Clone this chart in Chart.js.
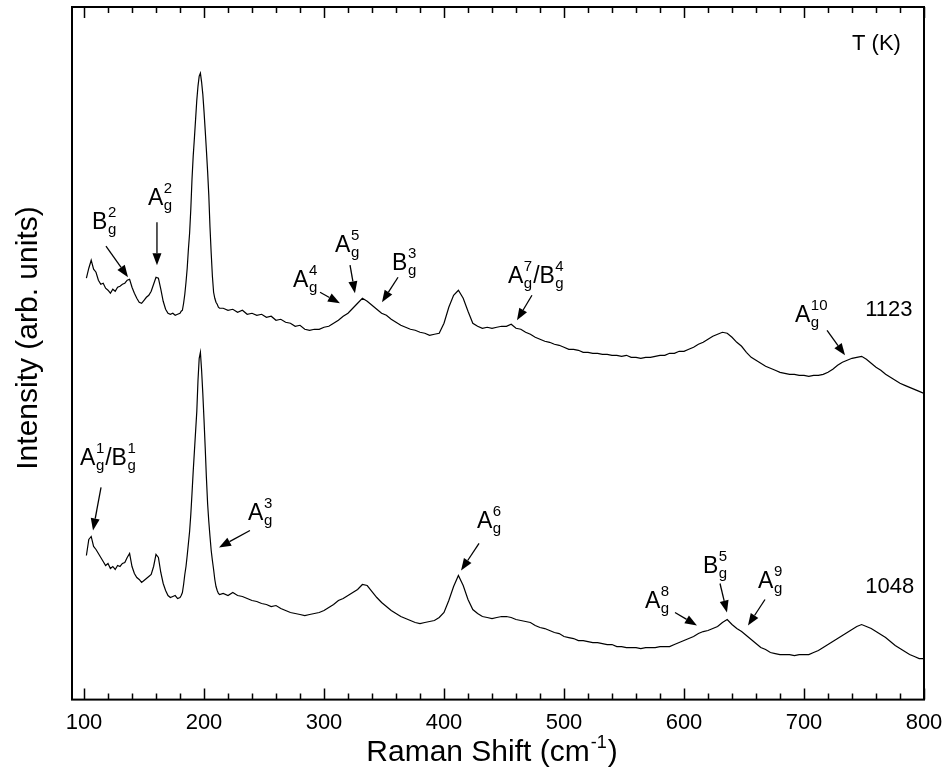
<!DOCTYPE html>
<html>
<head>
<meta charset="utf-8">
<script src="https://cdn.jsdelivr.net/npm/chart.js@4.4.1/dist/chart.umd.min.js"></script>
<style>
  html, body { margin: 0; padding: 0; background: #fff; }
</style>
</head>
<body>
<canvas id="raman" width="947" height="769"></canvas>
<script>
// Raman shift (cm-1) sample positions
const shift = [
  102,104,106,108,110,112,114,116,118,120,122,124,126,128,130,132,134,136,138,140,
  142,144,146,148,150,152,154,156,158,160,162,164,166,168,170,172,174,176,178,180,
  181,182,183,184,185,186,187,188,189,190,191,192,193,194,195,196,197,198,199,200,
  201,202,203,204,205,206,207,208,209,210,211,212,213,
  216,220,224,228,232,236,240,244,248,252,256,260,264,268,272,276,280,284,288,292,
  296,300,304,308,312,316,320,324,328,332,336,340,344,348,352,356,360,364,368,372,
  376,380,384,388,392,396,400,404,408,412,416,420,424,428,432,436,440,444,448,452,
  456,460,464,468,472,476,480,484,488,492,496,500,504,508,512,516,520,524,528,532,
  536,540,544,548,552,556,560,564,568,572,576,580,584,588,592,596,600,604,608,612,
  616,620,624,628,632,636,640,644,648,652,656,660,664,668,672,676,680,684,688,692,
  696,700,704,708,712,716,720,724,728,732,736,740,744,748,752,756,760,764,768,772,
  776,780,784,788,792,796,800
];

// intensity, 1123 K spectrum (offset upwards)
const int1123 = [
  421,431,439,430,427,419,415,416,411,409,406,410,408,412,413,415,416,419,420,412,
  406,401,397,396,399,402,404,408,415,422,421,410,398,390,386,385,386,384,385,386,
  388,389,396,405,417,431,450,466,490,520,543,561,580,599,613,623,626,617,605,588,
  569,549,528,504,472,446,423,407,401,397,395,392,391,
  391,389,390,387,389,385,386,384,385,382,383,379,380,377,376,373,374,370,369,370,
  370,372,373,376,379,383,386,391,396,401,398,394,390,386,384,380,377,374,372,370,
  369,367,366,364,365,366,376,392,404,409,401,388,376,373,371,372,371,372,373,373,
  375,371,370,367,365,362,360,358,357,355,354,352,350,350,349,347,347,346,346,345,
  345,344,344,343,344,342,342,341,342,342,343,344,344,346,346,348,348,350,352,355,
  357,360,363,365,367,366,362,357,353,347,342,339,336,333,331,329,327,326,325,325,
  324,324,323,324,324,325,327,330,334,337,339,341,342,343,340,336,332,329,325,322,
  319,316,314,312,310,308,306
];

// intensity, 1048 K spectrum
const int1048 = [
  144,160,163,153,150,146,142,138,134,136,131,133,130,134,133,136,137,142,146,133,
  126,122,120,117,119,121,123,125,133,145,142,127,116,109,104,102,103,104,101,102,
  104,107,115,125,133,144,156,168,185,206,228,248,268,288,319,341,347,329,306,280,
  252,222,196,178,163,149,139,130,120,113,109,106,105,
  106,104,107,104,103,101,99,98,96,95,93,94,91,89,87,86,85,84,85,86,
  87,89,92,95,99,101,104,107,110,115,114,108,102,97,93,89,86,83,81,79,
  77,76,77,78,79,82,87,99,113,124,114,100,90,86,83,82,81,82,83,83,
  82,80,79,78,77,74,72,71,69,67,66,63,62,61,59,59,58,57,57,56,
  55,55,53,53,52,52,52,51,52,52,52,53,53,53,55,57,59,61,63,66,
  68,69,71,73,77,80,75,71,68,64,60,56,52,50,47,46,45,45,45,44,
  45,45,45,47,49,52,55,58,61,64,67,70,73,75,73,71,68,65,62,58,
  54,51,48,45,43,41,41
];

const xTicks = [100, 200, 300, 400, 500, 600, 700, 800];
const temps = ['1123', '1048'];

// phonon mode labels: [base, superscript] pairs, subscript is always g
// pos = label baseline start, arrow = [from, to] in data units
const modes = [
  { parts: [['B', '2']], pos: [106.7, 470], arrow: [[118.3, 453], [136.7, 422]] },
  { parts: [['A', '2']], pos: [153.3, 494], arrow: [[160.8, 477], [160.8, 434]] },
  { parts: [['A', '4']], pos: [274.2, 412], arrow: [[296.7, 407], [313.3, 396]] },
  { parts: [['A', '5']], pos: [309.2, 447], arrow: [[321.7, 434], [325.8, 406]] },
  { parts: [['B', '3']], pos: [356.7, 429], arrow: [[361.7, 422], [348.3, 397]] },
  { parts: [['A', '7'], ['/B', '4']], pos: [453.3, 416], arrow: [[473.3, 404], [460.8, 379]] },
  { parts: [['A', '10']], pos: [692.5, 377], arrow: [[719.2, 369], [734.2, 344]] },
  { parts: [['A', '1'], ['/B', '1']], pos: [96.7, 234], arrow: [[114.2, 212], [107.5, 169]] },
  { parts: [['A', '3']], pos: [236.7, 179], arrow: [[238.3, 169], [212.5, 152]] },
  { parts: [['A', '6']], pos: [427.5, 171], arrow: [[429.2, 156], [414.2, 129]] },
  { parts: [['A', '8']], pos: [567.5, 92], arrow: [[592.5, 87], [610.8, 74]] },
  { parts: [['B', '5']], pos: [615.8, 126], arrow: [[630, 116], [635.8, 87]] },
  { parts: [['A', '9']], pos: [661.7, 112], arrow: [[667.5, 100], [653.3, 74]] }
];
const tempPos = [[751, 383], [751, 107]];

const FONT = '"Liberation Sans", Arial, sans-serif';

function drawMode(ctx, x, y, parts) {
  let cx = x;
  parts.forEach(([base, sup]) => {
    ctx.font = '23px ' + FONT;
    ctx.fillText(base, cx, y);
    cx += ctx.measureText(base).width + 0.5;
    ctx.font = '15px ' + FONT;
    ctx.fillText('g', cx, y + 5);
    ctx.fillText(sup, cx, y - 12);
    cx += Math.max(ctx.measureText('g').width, ctx.measureText(sup).width) + 1;
  });
}

function drawArrow(ctx, x1, y1, x2, y2) {
  const ang = Math.atan2(y2 - y1, x2 - x1);
  const len = 12, half = 4.5;
  ctx.beginPath();
  ctx.moveTo(x1, y1);
  ctx.lineTo(x2 - Math.cos(ang) * len, y2 - Math.sin(ang) * len);
  ctx.stroke();
  ctx.beginPath();
  ctx.moveTo(x2, y2);
  ctx.lineTo(x2 - Math.cos(ang) * len - Math.sin(ang) * half, y2 - Math.sin(ang) * len + Math.cos(ang) * half);
  ctx.lineTo(x2 - Math.cos(ang) * len + Math.sin(ang) * half, y2 - Math.sin(ang) * len - Math.cos(ang) * half);
  ctx.closePath();
  ctx.fill();
}

// frame, inward ticks, titles and mode labels
const decor = {
  id: 'decor',
  afterDraw(chart) {
    const ctx = chart.ctx;
    const a = chart.chartArea;
    const xs = chart.scales.x, ys = chart.scales.y;
    ctx.save();
    ctx.strokeStyle = '#000';
    ctx.fillStyle = '#000';

    // box
    ctx.lineWidth = 2;
    ctx.strokeRect(a.left, a.top, a.right - a.left, a.bottom - a.top);

    // ticks on bottom and top, pointing inwards
    ctx.lineWidth = 1.5;
    for (let v = 100; v <= 800; v += 20) {
      const px = Math.round(xs.getPixelForValue(v)) + 0.5;
      const len = (v % 100 === 0) ? 11 : 6;
      ctx.beginPath();
      ctx.moveTo(px, a.bottom);
      ctx.lineTo(px, a.bottom - len);
      ctx.moveTo(px, a.top);
      ctx.lineTo(px, a.top + len);
      ctx.stroke();
    }

    // axis titles
    ctx.textBaseline = 'alphabetic';
    ctx.font = '30px ' + FONT;
    const t1 = 'Raman Shift (cm', t3 = ')';
    const w1 = ctx.measureText(t1).width, w3 = ctx.measureText(t3).width;
    ctx.font = '18px ' + FONT;
    const w2 = ctx.measureText('-1').width;
    let tx = 491 - (w1 + w2 + w3) / 2;
    ctx.font = '30px ' + FONT;
    ctx.fillText(t1, tx, 761);
    ctx.font = '18px ' + FONT;
    ctx.fillText('-1', tx + w1 + 1, 748);
    ctx.font = '30px ' + FONT;
    ctx.fillText(t3, tx + w1 + w2 + 2, 761);

    ctx.save();
    ctx.translate(37, 338);
    ctx.rotate(-Math.PI / 2);
    ctx.textAlign = 'center';
    ctx.fillText('Intensity (arb. units)', 0, 0);
    ctx.restore();

    // temperature labels
    ctx.font = '22px ' + FONT;
    ctx.fillText('T (K)', xs.getPixelForValue(740), ys.getPixelForValue(649));
    temps.forEach((t, i) => {
      ctx.fillText(t, xs.getPixelForValue(tempPos[i][0]), ys.getPixelForValue(tempPos[i][1]));
    });

    // mode labels with arrows
    ctx.lineWidth = 1.3;
    modes.forEach(m => {
      drawMode(ctx, xs.getPixelForValue(m.pos[0]), ys.getPixelForValue(m.pos[1]), m.parts);
      const [p, q] = m.arrow;
      drawArrow(ctx,
        xs.getPixelForValue(p[0]), ys.getPixelForValue(p[1]),
        xs.getPixelForValue(q[0]), ys.getPixelForValue(q[1]));
    });
    ctx.restore();
  }
};

const toPoints = arr => shift.map((x, i) => ({ x: x, y: arr[i] }));

new Chart(document.getElementById('raman'), {
  type: 'line',
  data: {
    datasets: [
      { label: temps[0], data: toPoints(int1123), borderColor: '#000', borderWidth: 1.2, pointRadius: 0, tension: 0 },
      { label: temps[1], data: toPoints(int1048), borderColor: '#000', borderWidth: 1.2, pointRadius: 0, tension: 0 }
    ]
  },
  options: {
    responsive: false,
    devicePixelRatio: 1,
    animation: false,
    layout: { padding: { left: 72, right: 23, top: 7, bottom: 23 } },
    plugins: { legend: { display: false }, tooltip: { enabled: false } },
    scales: {
      x: {
        type: 'linear',
        min: 90,
        max: 800,
        afterBuildTicks: scale => { scale.ticks = xTicks.map(v => ({ value: v })); },
        // keep the edge labels from pushing the plot area inwards
        afterFit: scale => { scale.paddingLeft = 0; scale.paddingRight = 0; },
        grid: { display: false, drawTicks: false },
        border: { display: false },
        ticks: { color: '#000', font: { family: FONT, size: 22 }, padding: 10, maxRotation: 0, autoSkip: false }
      },
      y: { display: false, min: 0, max: 692 }
    }
  },
  plugins: [decor]
});
</script>
</body>
</html>
